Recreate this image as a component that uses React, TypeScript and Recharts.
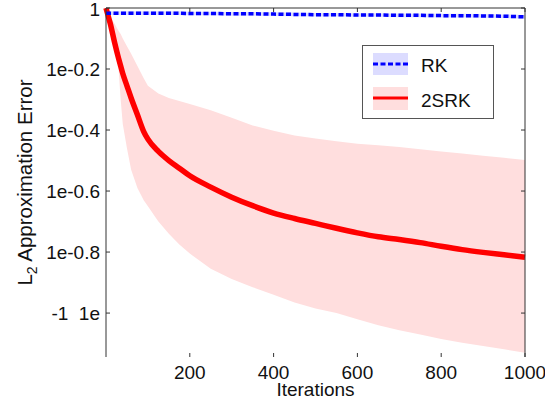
import { ComposedChart, Line, Area, XAxis, YAxis, Legend } from "recharts";

// values are log10 of the L2 approximation error
const iterations = [0, 5, 10, 20, 30, 35, 40, 50, 60, 75, 90, 100, 125, 150, 175, 200, 250, 300, 350, 400, 450, 500, 550, 600, 650, 700, 750, 800, 850, 900, 950, 1000];

const srkMean = [0, -0.025, -0.05, -0.11, -0.165, -0.19, -0.215, -0.255, -0.295, -0.35, -0.405, -0.43, -0.47, -0.5, -0.525, -0.55, -0.587, -0.62, -0.648, -0.672, -0.69, -0.706, -0.722, -0.737, -0.75, -0.759, -0.769, -0.781, -0.792, -0.801, -0.809, -0.817];
const srkLow = [0, -0.03, -0.06, -0.1, -0.2, -0.3, -0.38, -0.46, -0.53, -0.59, -0.63, -0.65, -0.7, -0.74, -0.775, -0.805, -0.855, -0.888, -0.915, -0.94, -0.965, -0.985, -1.0, -1.02, -1.04, -1.056, -1.07, -1.085, -1.097, -1.108, -1.119, -1.13];
const srkHigh = [0, -0.015, -0.03, -0.05, -0.075, -0.085, -0.1, -0.125, -0.15, -0.19, -0.23, -0.255, -0.28, -0.295, -0.305, -0.315, -0.335, -0.36, -0.385, -0.402, -0.418, -0.428, -0.437, -0.445, -0.45, -0.456, -0.463, -0.47, -0.477, -0.484, -0.491, -0.498];

const rkMean = [-0.017, -0.017, -0.017, -0.017, -0.017, -0.017, -0.017, -0.017, -0.017, -0.017, -0.017, -0.017, -0.017, -0.017, -0.017, -0.018, -0.018, -0.019, -0.019, -0.02, -0.021, -0.022, -0.022, -0.023, -0.023, -0.024, -0.024, -0.025, -0.025, -0.026, -0.027, -0.029];
const rkLow = [-0.023, -0.023, -0.023, -0.023, -0.023, -0.023, -0.023, -0.023, -0.023, -0.023, -0.023, -0.023, -0.023, -0.023, -0.023, -0.024, -0.024, -0.025, -0.025, -0.026, -0.027, -0.028, -0.028, -0.029, -0.029, -0.03, -0.03, -0.031, -0.031, -0.032, -0.033, -0.035];
const rkHigh = [-0.011, -0.011, -0.011, -0.011, -0.011, -0.011, -0.011, -0.011, -0.011, -0.011, -0.011, -0.011, -0.011, -0.011, -0.011, -0.012, -0.012, -0.013, -0.013, -0.014, -0.015, -0.016, -0.016, -0.017, -0.017, -0.018, -0.018, -0.019, -0.019, -0.02, -0.021, -0.023];

const xTicks = [200, 400, 600, 800, 1000];
const yTicks = [0, -0.2, -0.4, -0.6, -0.8, -1];
const yTickLabels = ["1", "1e-0.2", "1e-0.4", "1e-0.6", "1e-0.8", "-1\u00a0\u00a01e"];

const data = iterations.map((it, i) => ({
  it,
  rk: rkMean[i],
  rkBand: [rkLow[i], rkHigh[i]],
  srk: srkMean[i],
  srkBand: [srkLow[i], srkHigh[i]],
}));

const font = "'Liberation Sans', Arial, sans-serif";
const axisColor = "#333";

const BottomTick = (props: any) => {
  const { x, y, payload } = props;
  return (
    <g>
      <line x1={x} y1={y} x2={x} y2={y - 4} stroke={axisColor} />
      <text x={x} y={y + 22} textAnchor="middle" fontSize={19} fontFamily={font} fill="#111">
        {payload.value}
      </text>
    </g>
  );
};

const TopTick = (props: any) => {
  const { x, y } = props;
  return <line x1={x} y1={y} x2={x} y2={y + 4} stroke={axisColor} />;
};

const LeftTick = (props: any) => {
  const { x, y, payload } = props;
  const idx = yTicks.findIndex((t) => Math.abs(t - payload.value) < 1e-6);
  // the top label sits at the very edge, keep it inside the picture
  const dy = idx === 0 ? 8 : 7;
  return (
    <g>
      <line x1={x} y1={y} x2={x + 4} y2={y} stroke={axisColor} />
      <text x={x - 6} y={y + dy} textAnchor="end" fontSize={19} fontFamily={font} fill="#111">
        {yTickLabels[idx]}
      </text>
    </g>
  );
};

const RightTick = (props: any) => {
  const { x, y } = props;
  return <line x1={x} y1={y} x2={x - 4} y2={y} stroke={axisColor} />;
};

const YLabel = (props: any) => {
  const { viewBox } = props;
  const cy = viewBox.y + viewBox.height / 2;
  const cx = 32;
  return (
    <text
      x={cx}
      y={cy}
      transform={`rotate(-90, ${cx}, ${cy})`}
      textAnchor="middle"
      fontSize={20.5}
      fontFamily={font}
      fill="#111"
    >
      L<tspan fontSize={14} dy={5}>2</tspan>
      <tspan dy={-5}> Approximation Error</tspan>
    </text>
  );
};

const LegendBox = () => (
  <div style={{ width: 132, height: 74, border: "1px solid #555", background: "#fff", boxSizing: "border-box" }}>
    <svg width={130} height={72}>
      <rect x={10} y={7} width={35} height={22} fill="#dcdcff" />
      <line x1={10} y1={18} x2={45} y2={18} stroke="#0000ff" strokeWidth={3} strokeDasharray="5 2.5" />
      <text x={58} y={26} fontSize={19} fontFamily={font} fill="#111">RK</text>
      <rect x={10} y={41} width={35} height={23} fill="#ffdede" />
      <line x1={10} y1={52} x2={45} y2={52} stroke="#ff0000" strokeWidth={3} />
      <text x={58} y={61} fontSize={19} fontFamily={font} fill="#111">2SRK</text>
    </svg>
  </div>
);

export default function App() {
  return (
    <div style={{ position: "absolute", left: 0, top: 0, width: 545, height: 406, background: "#fff" }}>
      <ComposedChart width={545} height={406} data={data} margin={{ top: 0, right: 0, bottom: 0, left: 0 }}>
        <XAxis
          xAxisId="bottom"
          dataKey="it"
          type="number"
          domain={[0, 1000]}
          ticks={xTicks}
          interval={0}
          height={49}
          axisLine={false}
          tickLine={false}
          tickSize={0}
          tickMargin={0}
          tick={<BottomTick />}
          label={{ value: "Iterations", position: "insideBottom", offset: 10, fontSize: 19, fontFamily: font, fill: "#111" }}
        />
        <XAxis
          xAxisId="top"
          orientation="top"
          dataKey="it"
          type="number"
          domain={[0, 1000]}
          ticks={xTicks}
          interval={0}
          height={8}
          axisLine={{ stroke: axisColor }}
          tickLine={false}
          tickSize={0}
          tickMargin={0}
          tick={<TopTick />}
        />
        <YAxis
          yAxisId="left"
          type="number"
          domain={[-1.144, 0]}
          ticks={yTicks}
          interval={0}
          width={106}
          allowDataOverflow
          axisLine={{ stroke: axisColor }}
          tickLine={false}
          tickSize={0}
          tickMargin={0}
          tick={<LeftTick />}
          label={<YLabel />}
        />
        <YAxis
          yAxisId="right"
          orientation="right"
          type="number"
          domain={[-1.144, 0]}
          ticks={yTicks}
          interval={0}
          width={20}
          allowDataOverflow
          axisLine={{ stroke: axisColor }}
          tickLine={false}
          tickSize={0}
          tickMargin={0}
          tick={<RightTick />}
        />
        <Legend
          layout="vertical"
          align="center"
          verticalAlign="middle"
          wrapperStyle={{ left: 362, top: 45, width: 132, height: 74 }}
          content={() => <LegendBox />}
        />
        <Area
          xAxisId="bottom"
          yAxisId="left"
          dataKey="srkBand"
          name="2SRK band"
          type="linear"
          stroke="none"
          fill="#ffdede"
          fillOpacity={1}
          isAnimationActive={false}
          legendType="none"
        />
        <Area
          xAxisId="bottom"
          yAxisId="left"
          dataKey="rkBand"
          name="RK band"
          type="linear"
          stroke="none"
          fill="#dcdcff"
          fillOpacity={1}
          isAnimationActive={false}
          legendType="none"
        />
        <Line
          xAxisId="bottom"
          yAxisId="left"
          dataKey="srk"
          name="2SRK"
          type="monotone"
          stroke="#ff0000"
          strokeWidth={5.5}
          dot={false}
          isAnimationActive={false}
        />
        <Line
          xAxisId="bottom"
          yAxisId="left"
          dataKey="rk"
          name="RK"
          type="linear"
          stroke="#0000ff"
          strokeWidth={3.5}
          strokeDasharray="5 2.5"
          dot={false}
          isAnimationActive={false}
        />
      </ComposedChart>
    </div>
  );
}
